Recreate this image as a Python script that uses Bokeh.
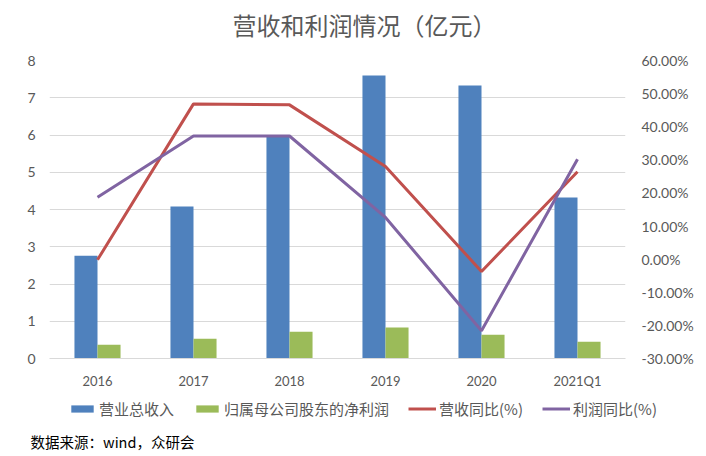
from bokeh.plotting import figure
from bokeh.layouts import column
from bokeh.models import (Range1d, LinearAxis, FactorRange, ColumnDataSource, Legend, LegendItem,
                          Label, SingleIntervalTicker, PrintfTickFormatter)
from bokeh.transform import dodge
from bokeh.embed import file_html
from bokeh.resources import INLINE

years = ["2016", "2017", "2018", "2019", "2020", "2021Q1"]
revenue = [2.76, 4.08, 5.99, 7.60, 7.33, 4.32]
net_profit = [0.37, 0.53, 0.72, 0.83, 0.64, 0.45]
revenue_yoy = [-0.2, 46.9, 46.6, 28.0, -3.7, 26.4]
profit_yoy = [18.7, 37.2, 37.2, 12.6, -21.6, 30.2]

title_text = "营收和利润情况（亿元）"
source_text = "数据来源：wind，众研会"
legend_labels = ["营业总收入", "归属母公司股东的净利润", "营收同比(%)", "利润同比(%)"]

BLUE = "#4F81BD"
GREEN = "#9BBB59"
RED = "#C0504D"
PURPLE = "#8064A2"
GRAY = "#595959"
GRID = "#D9D9D9"
NUMFONT = "Lato"
CJK = "Noto Sans CJK SC"

W = 706
H_TOP, H_MID = 45, 347
H_BOT = 456 - H_TOP - H_MID


def blank(h):
    f = figure(width=W, height=h, x_range=Range1d(0, W), y_range=Range1d(0, h),
               output_backend="svg", toolbar_location=None,
               x_axis_location=None, y_axis_location=None, frame_align=False,
               min_border_left=0, min_border_right=0, min_border_top=0, min_border_bottom=0)
    f.outline_line_color = None
    f.xgrid.visible = False
    f.ygrid.visible = False
    f.background_fill_color = "white"
    f.border_fill_color = "white"
    return f


# ---------- title ----------
p_top = blank(H_TOP)
p_top.add_layout(Label(x=364, y=21, text=title_text, text_align="center", text_baseline="middle",
                       text_font=CJK, text_font_size="24px", text_color=GRAY))

# ---------- chart ----------
src = ColumnDataSource(dict(year=years, rev=revenue, np=net_profit,
                            ryoy=revenue_yoy, pyoy=profit_yoy))

p = figure(width=W, height=H_MID, x_range=FactorRange(*years), y_range=Range1d(0, 8),
           output_backend="svg", toolbar_location=None, frame_align=False,
           min_border_left=49, min_border_right=81, min_border_top=15, min_border_bottom=34)
p.outline_line_color = None
p.background_fill_color = "white"
p.border_fill_color = "white"
p.extra_y_ranges = {"pct": Range1d(-30, 60)}

p.xgrid.grid_line_color = None
p.ygrid.grid_line_color = GRID
p.ygrid.grid_line_width = 1

p.yaxis.ticker = SingleIntervalTicker(interval=1)
p.yaxis.axis_line_color = None
p.yaxis.major_tick_line_color = None
p.yaxis.minor_tick_line_color = None
p.yaxis.major_tick_out = 0
p.yaxis.minor_tick_out = 0
p.yaxis.major_label_standoff = 14
p.yaxis.major_label_text_font = NUMFONT
p.yaxis.major_label_text_font_size = "14px"
p.yaxis.major_label_text_color = GRAY

p.xaxis.axis_line_color = GRID
p.xaxis.major_tick_line_color = None
p.xaxis.minor_tick_line_color = None
p.xaxis.major_tick_out = 0
p.xaxis.minor_tick_out = 0
p.xaxis.major_label_standoff = 14
p.xaxis.major_label_text_font = NUMFONT
p.xaxis.major_label_text_font_size = "13px"
p.xaxis.major_label_text_color = GRAY

ra = LinearAxis(y_range_name="pct", ticker=SingleIntervalTicker(interval=10),
                formatter=PrintfTickFormatter(format="%.2f%%"))
ra.axis_line_color = None
ra.major_tick_line_color = None
ra.minor_tick_line_color = None
ra.major_tick_out = 0
ra.minor_tick_out = 0
ra.major_label_standoff = 16
ra.major_label_text_font = NUMFONT
ra.major_label_text_font_size = "14px"
ra.major_label_text_color = GRAY
p.add_layout(ra, "right")

bw = 0.24
p.vbar(x=dodge("year", -bw / 2, range=p.x_range), top="rev", width=bw, source=src,
       fill_color=BLUE, line_color=None)
p.vbar(x=dodge("year", bw / 2, range=p.x_range), top="np", width=bw, source=src,
       fill_color=GREEN, line_color=None)
p.line(x="year", y="ryoy", source=src, y_range_name="pct", line_color=RED, line_width=3)
p.line(x="year", y="pyoy", source=src, y_range_name="pct", line_color=PURPLE, line_width=3)

# ---------- legend + source ----------
p_bot = blank(H_BOT)
nan = float("nan")
empty = ColumnDataSource(dict(x=[nan], y=[nan]))
l1 = p_bot.vbar(x="x", top="y", width=1, source=empty, fill_color=BLUE, line_color=None)
l2 = p_bot.vbar(x="x", top="y", width=1, source=empty, fill_color=GREEN, line_color=None)
l3 = p_bot.line(x="x", y="y", source=empty, line_color=RED, line_width=3)
l4 = p_bot.line(x="x", y="y", source=empty, line_color=PURPLE, line_width=3)

legend = Legend(items=[LegendItem(label=legend_labels[0], renderers=[l1]),
                       LegendItem(label=legend_labels[1], renderers=[l2]),
                       LegendItem(label=legend_labels[2], renderers=[l3]),
                       LegendItem(label=legend_labels[3], renderers=[l4])],
                orientation="horizontal", location=(68, H_BOT - 17 - 10),
                padding=0, margin=0, spacing=19, label_standoff=3,
                glyph_width=28, glyph_height=9,
                label_text_font=CJK, label_text_font_size="15px", label_text_color=GRAY,
                border_line_color=None, background_fill_alpha=0)
p_bot.add_layout(legend, "center")

p_bot.add_layout(Label(x=30, y=15.5, text=source_text, text_align="left", text_baseline="middle",
                       text_font=CJK, text_font_size="14.5px", text_color="black"))

layout = column(p_top, p, p_bot, spacing=0)
open("out.html", "w").write(file_html(layout, INLINE))
